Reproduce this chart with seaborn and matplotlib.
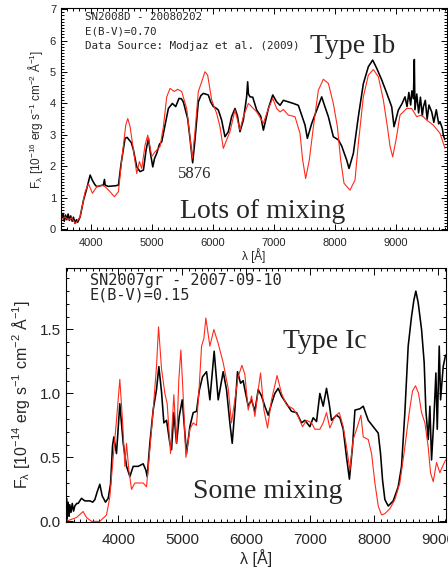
import numpy as np
import pandas as pd
import matplotlib
matplotlib.use("Agg")
import matplotlib.pyplot as plt
from matplotlib.ticker import MultipleLocator
import seaborn as sns

sn08d_wave = [3508, 3540, 3560, 3580, 3600, 3623, 3645, 3665, 3690, 3710, 3738, 3760, 3780,
              3820, 3875, 3929, 3984, 4022, 4060, 4093, 4150, 4200, 4219, 4230, 4280, 4339,
              4400, 4448, 4492, 4557, 4590, 4623, 4660, 4694, 4748, 4803, 4858, 4900, 4940,
              4970, 5011, 5040, 5076, 5120, 5158, 5212, 5267, 5332, 5387, 5441, 5480, 5512,
              5583, 5621, 5665, 5703, 5758, 5800, 5840, 5922, 5960, 6004, 6050, 6086, 6140,
              6195, 6250, 6304, 6359, 6400, 6441, 6496, 6550, 6567, 6580, 6606, 6650, 6715,
              6780, 6825, 6907, 6978, 7043, 7098, 7152, 7234, 7316, 7398, 7453, 7508, 7546,
              7617, 7699, 7781, 7835, 7890, 7972, 8054, 8108, 8190, 8229, 8300, 8382, 8464,
              8546, 8617, 8683, 8765, 8847, 8929, 8967, 9038, 9100, 9147, 9180, 9210, 9240,
              9260, 9284, 9300, 9310, 9340, 9370, 9400, 9430, 9448, 9480, 9510, 9540, 9585,
              9620, 9660, 9700, 9721, 9760, 9775, 9800]
sn08d_flux = [0.35, 0.50, 0.25, 0.45, 0.30, 0.48, 0.28, 0.42, 0.25, 0.38, 0.18, 0.30, 0.22,
              0.39, 0.92, 1.29, 1.72, 1.55, 1.42, 1.35, 1.38, 1.40, 1.58, 1.40, 1.36, 1.37,
              1.38, 1.40, 2.09, 2.89, 2.92, 2.84, 2.75, 2.52, 1.98, 1.83, 1.88, 2.50, 2.89,
              2.45, 1.98, 2.25, 2.41, 2.70, 2.78, 3.31, 3.84, 4.00, 3.90, 4.16, 4.15, 4.05,
              3.52, 2.89, 2.11, 2.84, 4.05, 4.25, 4.32, 4.27, 4.05, 3.90, 3.85, 3.79, 3.47,
              2.94, 3.10, 3.58, 3.84, 3.60, 3.10, 3.47, 4.21, 4.69, 4.30, 4.21, 4.20, 3.79,
              3.60, 3.15, 3.84, 4.27, 4.05, 3.94, 4.10, 4.05, 4.00, 3.94, 3.63, 3.31, 2.89,
              3.36, 3.79, 4.21, 3.89, 3.58, 2.94, 2.84, 2.65, 2.20, 1.93, 2.41, 3.58, 4.63,
              5.17, 5.38, 5.12, 4.75, 4.33, 3.89, 3.26, 3.79, 4.00, 4.21, 3.90, 4.35, 3.95,
              4.40, 4.15, 5.40, 3.80, 4.30, 3.70, 4.20, 3.60, 3.89, 4.10, 3.50, 3.95, 3.73,
              3.40, 3.80, 3.35, 3.42, 3.20, 2.99, 2.85]

# SN2008D - model spectrum
model08d_wave = [3508, 3574, 3623, 3678, 3743, 3820, 3902, 3957, 4022, 4093, 4175, 4230, 4311,
                 4382, 4448, 4502, 4568, 4601, 4639, 4694, 4748, 4792, 4830, 4885, 4929, 4995,
                 5049, 5131, 5185, 5240, 5294, 5365, 5419, 5485, 5567, 5621, 5659, 5703, 5758,
                 5813, 5867, 5911, 5977, 6059, 6113, 6168, 6222, 6277, 6359, 6441, 6496, 6578,
                 6606, 6715, 6825, 6907, 6978, 7043, 7098, 7152, 7234, 7343, 7425, 7469, 7518,
                 7578, 7645, 7726, 7808, 7890, 7972, 8038, 8092, 8147, 8245, 8327, 8382, 8464,
                 8546, 8628, 8710, 8792, 8858, 8902, 8945, 9000, 9065, 9174, 9256, 9338, 9420,
                 9502, 9611, 9721, 9803]
model08d_flux = [0.29, 0.39, 0.29, 0.36, 0.18, 0.39, 1.19, 1.44, 1.14, 1.35, 1.40, 1.35, 1.19,
                 1.03, 1.19, 2.20, 3.31, 3.52, 3.26, 2.52, 1.77, 2.15, 1.93, 2.68, 2.99, 2.31,
                 2.46, 2.63, 3.26, 4.21, 4.48, 4.38, 4.45, 4.38, 3.84, 2.94, 2.25, 3.10, 4.38,
                 4.69, 5.01, 4.90, 4.11, 3.68, 3.26, 2.57, 2.84, 3.10, 3.79, 3.15, 3.58, 4.00,
                 3.95, 3.73, 3.37, 3.84, 4.16, 3.84, 3.73, 3.81, 3.63, 3.58, 3.05, 2.20, 1.61,
                 2.20, 3.26, 4.42, 4.77, 4.64, 4.00, 3.26, 2.20, 1.46, 1.24, 1.56, 2.73, 4.21,
                 4.90, 5.08, 4.85, 4.11, 3.26, 2.63, 2.30, 2.84, 3.63, 3.84, 3.84, 3.58, 3.63,
                 3.47, 3.31, 3.05, 2.57]

# SN2007gr (Type Ic) - observed spectrum
sn07gr_wave = [3180, 3190, 3200, 3215, 3230, 3242, 3260, 3280, 3300, 3320, 3350, 3372, 3424,
               3477, 3555, 3600, 3633, 3669, 3711, 3747, 3799, 3841, 3878, 3909, 3930, 3971,
               4023, 4076, 4128, 4180, 4232, 4310, 4388, 4430, 4451, 4492, 4544, 4596, 4633,
               4675, 4711, 4753, 4805, 4831, 4867, 4909, 4951, 4998, 5024, 5065, 5117, 5169,
               5221, 5263, 5315, 5378, 5430, 5497, 5560, 5638, 5690, 5742, 5779, 5820, 5862,
               5909, 5950, 5977, 6029, 6081, 6133, 6185, 6237, 6289, 6341, 6393, 6445, 6497,
               6549, 6627, 6706, 6784, 6862, 6914, 6992, 7044, 7096, 7148, 7200, 7252, 7294,
               7330, 7409, 7461, 7513, 7565, 7610, 7659, 7696, 7774, 7826, 7904, 7982, 8060,
               8096, 8128, 8164, 8216, 8294, 8372, 8424, 8476, 8528, 8580, 8617, 8648, 8684,
               8737, 8778, 8804, 8841, 8867, 8893, 8929, 8961, 8982, 9013, 9034, 9075, 9112]
sn07gr_flux = [0.05, 0.18, 0.02, 0.15, 0.04, 0.13, 0.07, 0.14, 0.08, 0.12, 0.14, 0.14, 0.18,
               0.16, 0.16, 0.15, 0.17, 0.23, 0.29, 0.20, 0.15, 0.18, 0.29, 0.59, 0.66, 0.53,
               0.92, 0.61, 0.43, 0.35, 0.43, 0.43, 0.45, 0.40, 0.35, 0.61, 0.87, 1.03, 1.21,
               1.01, 0.77, 0.79, 0.61, 0.56, 0.85, 0.61, 0.82, 0.95, 0.79, 0.53, 0.74, 0.85,
               0.86, 1.02, 1.13, 1.17, 0.95, 1.33, 0.95, 1.17, 1.03, 0.77, 0.61, 0.87, 1.17,
               1.08, 1.10, 1.03, 0.90, 0.95, 0.86, 1.03, 0.98, 0.90, 0.83, 0.92, 1.00, 1.04,
               0.98, 0.92, 0.86, 0.85, 0.77, 0.79, 0.74, 0.81, 0.78, 1.00, 0.90, 1.04, 0.92,
               0.79, 0.83, 0.81, 0.72, 0.50, 0.33, 0.59, 0.87, 0.88, 0.90, 0.79, 0.74, 0.69,
               0.53, 0.32, 0.17, 0.12, 0.16, 0.27, 0.43, 0.85, 1.37, 1.60, 1.73, 1.80, 1.71,
               1.50, 1.24, 0.87, 0.64, 0.90, 0.48, 0.80, 1.16, 0.72, 1.37, 0.95, 1.21, 1.30]

# SN2007gr - model spectrum
model07gr_wave = [3180, 3346, 3450, 3502, 3581, 3711, 3815, 3867, 3919, 3971, 4023, 4065, 4102,
                  4128, 4164, 4206, 4258, 4388, 4440, 4492, 4544, 4596, 4628, 4675, 4727, 4763,
                  4815, 4867, 4909, 4945, 4977, 5013, 5055, 5117, 5169, 5221, 5263, 5300, 5336,
                  5367, 5430, 5492, 5560, 5638, 5716, 5768, 5820, 5872, 5930, 5976, 6029, 6081,
                  6133, 6185, 6222, 6274, 6331, 6393, 6480, 6549, 6627, 6732, 6810, 6877, 6940,
                  7018, 7070, 7148, 7200, 7252, 7304, 7382, 7451, 7513, 7565, 7617, 7669, 7722,
                  7789, 7826, 7904, 7956, 8008, 8060, 8112, 8164, 8242, 8320, 8398, 8476, 8544,
                  8596, 8643, 8690, 8737, 8789, 8841, 8877, 8919, 8971, 9023, 9075, 9112]
model07gr_flux = [0.00, 0.03, 0.077, 0.03, 0.00, 0.00, 0.05, 0.19, 0.50, 0.79, 1.11, 0.79, 0.43,
                  0.61, 0.40, 0.25, 0.30, 0.30, 0.27, 0.56, 0.87, 1.21, 1.52, 1.19, 1.00, 0.92,
                  0.53, 0.99, 0.61, 1.11, 1.34, 0.98, 0.50, 0.72, 0.77, 0.75, 1.05, 1.37, 1.43,
                  1.59, 1.37, 1.50, 1.39, 1.24, 1.04, 0.77, 0.95, 1.13, 1.22, 1.15, 0.87, 0.98,
                  0.82, 1.03, 1.16, 0.87, 0.73, 0.95, 1.14, 1.00, 0.91, 0.88, 0.82, 0.74, 0.79,
                  0.77, 0.72, 0.72, 0.77, 0.85, 0.73, 0.82, 0.85, 0.74, 0.58, 0.40, 0.64, 0.72,
                  0.83, 0.66, 0.64, 0.53, 0.30, 0.12, 0.05, 0.06, 0.10, 0.17, 0.30, 0.58, 0.85,
                  1.02, 1.06, 1.00, 0.85, 0.77, 0.58, 0.38, 0.31, 0.46, 0.38, 0.44, 0.48]

sns.set_style("ticks")
plt.rcParams['font.family'] = ['Liberation Sans', 'DejaVu Sans']
plt.rcParams['mathtext.fontset'] = 'custom'
plt.rcParams['mathtext.rm'] = 'Liberation Sans'
plt.rcParams['mathtext.it'] = 'Liberation Sans'

RED = "#ff2a1a"
serif = "Liberation Serif"
mono = "DejaVu Sans Mono"

fig = plt.figure(figsize=(4.48, 5.68), dpi=100)
ax1 = fig.add_axes([0.136, 0.595, 0.861, 0.391])
ax2 = fig.add_axes([0.147, 0.081, 0.848, 0.447])


def spectrum(ax, wave, flux, color, lw):
    df = pd.DataFrame({"wave": wave, "flux": flux})
    sns.lineplot(data=df, x="wave", y="flux", ax=ax, color=color, lw=lw,
                 sort=False, estimator=None)


def style_axes(ax, xmaj, ymaj, ymin, size, majlen, minlen, pad):
    ax.xaxis.set_major_locator(MultipleLocator(xmaj))
    ax.xaxis.set_minor_locator(MultipleLocator(100))
    ax.yaxis.set_major_locator(MultipleLocator(ymaj))
    ax.yaxis.set_minor_locator(MultipleLocator(ymin))
    ax.tick_params(which="both", direction="in", top=True, right=True, width=0.7,
                   labelsize=size, color="black")
    ax.tick_params(which="major", length=majlen)
    ax.tick_params(which="minor", length=minlen)
    ax.tick_params(axis="x", pad=pad)
    for s in ax.spines.values():
        s.set_linewidth(0.8)
        s.set_color("black")


# top panel: SN2008D
spectrum(ax1, sn08d_wave, sn08d_flux, "black", 1.15)
spectrum(ax1, model08d_wave, model08d_flux, RED, 0.8)
ax1.set_xlim(3505, 9830)
ax1.set_ylim(-0.03, 7.04)
style_axes(ax1, 1000, 1, 0.1, 8, 4, 2, 6)
ax1.set_xlabel("λ [Å]", fontsize=8.5)
ax1.set_ylabel(r"F$_\lambda$ [10$^{-16}$ erg s$^{-1}$ cm$^{-2}$ Å$^{-1}$]", fontsize=8.5)
ax1.xaxis.set_label_coords(0.5, -0.08)
ax1.yaxis.set_label_coords(-0.04, 0.5)

ax1.text(0.062, 0.959, "SN2008D - 20080202", transform=ax1.transAxes,
         family=mono, fontsize=7.8, va="center")
ax1.text(0.062, 0.892, "E(B-V)=0.70", transform=ax1.transAxes,
         family=mono, fontsize=7.8, va="center")
ax1.text(0.062, 0.829, "Data Source: Modjaz et al. (2009)", transform=ax1.transAxes,
         family=mono, fontsize=7.8, va="center")
ax1.text(0.645, 0.797, "Type Ib", transform=ax1.transAxes, family=serif,
         fontsize=20, va="baseline")
ax1.text(0.309, 0.053, "Lots of mixing", transform=ax1.transAxes, family=serif,
         fontsize=20, va="baseline")
ax1.text(0.303, 0.234, "5876", transform=ax1.transAxes, family=serif,
         fontsize=12, va="baseline")

# bottom panel: SN2007gr
spectrum(ax2, sn07gr_wave, sn07gr_flux, "black", 1.15)
spectrum(ax2, model07gr_wave, model07gr_flux, RED, 0.8)
ax2.set_xlim(3180, 9115)
ax2.set_ylim(-0.005, 1.98)
style_axes(ax2, 1000, 0.5, 0.1, 11, 5, 2.5, 8)
ax2.set_xlabel("λ [Å]", fontsize=11.5)
ax2.set_ylabel(r"F$_\lambda$ [10$^{-14}$ erg s$^{-1}$ cm$^{-2}$ Å$^{-1}$]", fontsize=11.5)
ax2.xaxis.set_label_coords(0.5, -0.105)
ax2.yaxis.set_label_coords(-0.09, 0.5)

ax2.text(0.063, 0.953, "SN2007gr - 2007-09-10", transform=ax2.transAxes,
         family=mono, fontsize=11, va="center")
ax2.text(0.063, 0.894, "E(B-V)=0.15", transform=ax2.transAxes,
         family=mono, fontsize=11, va="center")
ax2.text(0.571, 0.685, "Type Ic", transform=ax2.transAxes, family=serif,
         fontsize=20, va="baseline")
ax2.text(0.334, 0.094, "Some mixing", transform=ax2.transAxes, family=serif,
         fontsize=20, va="baseline")

fig.savefig("out.png", dpi=100)
